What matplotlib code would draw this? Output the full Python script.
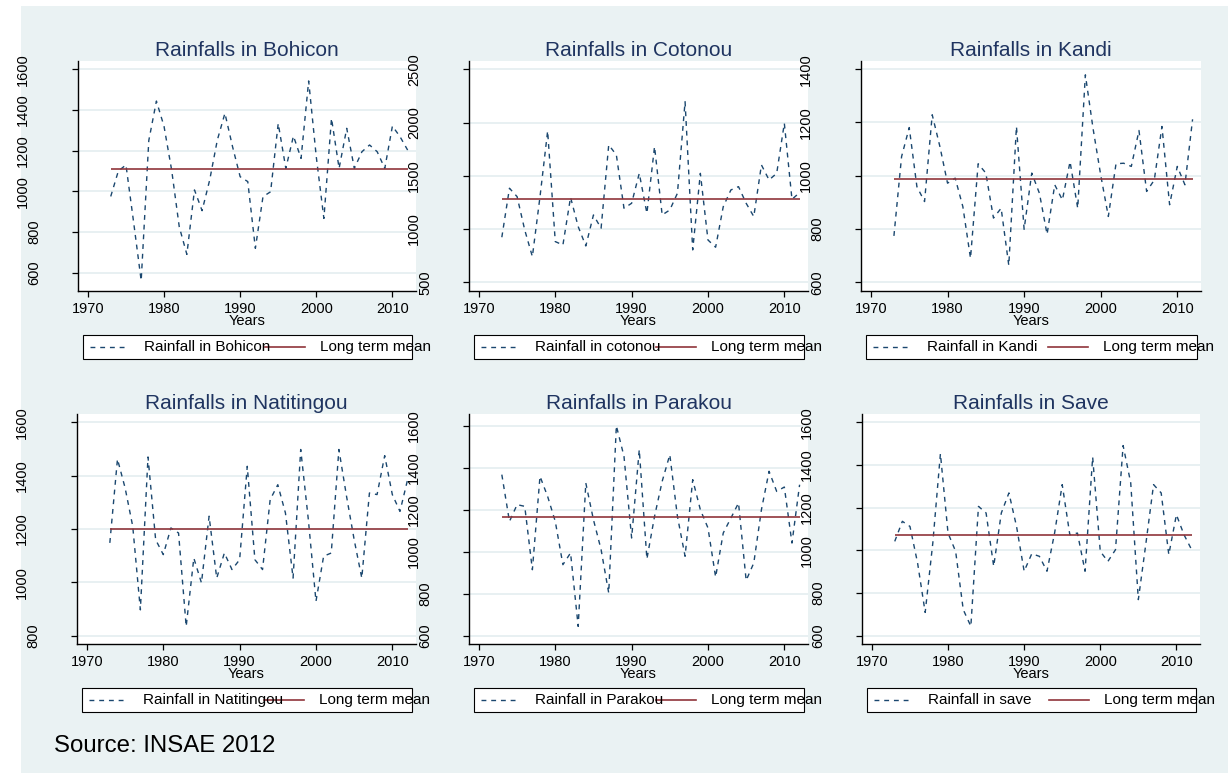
import matplotlib.pyplot as plt
import matplotlib.transforms as mtransforms
from matplotlib.lines import Line2D
from matplotlib.patches import Rectangle

years = list(range(1973, 2013))

bohicon = [975, 1100, 1130, 850, 561, 1250, 1444, 1320, 1105, 826,
           690, 1007, 905, 1056, 1252, 1384, 1220, 1072, 1048, 720,
           974, 998, 1334, 1113, 1272, 1162, 1543, 1170, 867, 1359,
           1113, 1310, 1113, 1195, 1228, 1195, 1113, 1321, 1269, 1203]
cotonou = [923, 1383, 1304, 991, 741, 1304, 1921, 882, 850, 1298,
           1023, 841, 1132, 1007, 1790, 1696, 1195, 1242, 1523, 1148,
           1774, 1132, 1179, 1336, 2196, 804, 1523, 897, 829, 1210,
           1367, 1398, 1242, 1117, 1602, 1461, 1523, 1993, 1279, 1342]
kandi = [774, 1072, 1181, 959, 903, 1229, 1110, 972, 991, 884,
         690, 1045, 1010, 841, 878, 663, 1185, 799, 1010, 934,
         780, 966, 909, 1053, 878, 1379, 1178, 1003, 847, 1045,
         1047, 1035, 1170, 941, 984, 1185, 891, 1035, 966, 1212]
natitingou = [1148, 1462, 1354, 1210, 897, 1470, 1160, 1104, 1204, 1185,
              835, 1091, 998, 1248, 1016, 1110, 1048, 1085, 1435, 1085,
              1048, 1310, 1366, 1260, 1016, 1498, 1235, 929, 1098, 1110,
              1498, 1323, 1160, 1016, 1335, 1329, 1475, 1329, 1266, 1385]
parakou = [1367, 1144, 1224, 1216, 914, 1359, 1263, 1144, 938, 994,
           644, 1327, 1152, 1010, 803, 1600, 1454, 1065, 1486, 965,
           1168, 1335, 1462, 1168, 978, 1343, 1200, 1113, 879, 1089,
           1160, 1232, 863, 946, 1200, 1383, 1287, 1308, 1041, 1319]
save = [1042, 1136, 1112, 941, 709, 1034, 1453, 1081, 995, 722,
        644, 1206, 1175, 925, 1175, 1269, 1112, 902, 984, 972,
        902, 1081, 1308, 1073, 1081, 902, 1437, 995, 948, 1003,
        1491, 1316, 769, 1034, 1308, 1269, 980, 1167, 1073, 1003]

# long term means (red line)
means = [1109, 1280, 988, 1200, 1165, 1070]

titles = ['Rainfalls in Bohicon', 'Rainfalls in Cotonou', 'Rainfalls in Kandi',
          'Rainfalls in Natitingou', 'Rainfalls in Parakou', 'Rainfalls in Save']
series_labels = ['Rainfall in Bohicon', 'Rainfall in cotonou', 'Rainfall in Kandi',
                 'Rainfall in Natitingou', 'Rainfall in Parakou', 'Rainfall in save']
mean_label = 'Long term mean'

x_ticks = [1970, 1980, 1990, 2000, 2010]
y_ticks = [
    [600, 800, 1000, 1200, 1400, 1600],
    [500, 1000, 1500, 2000, 2500],
    [600, 800, 1000, 1200, 1400],
    [800, 1000, 1200, 1400, 1600],
    [600, 800, 1000, 1200, 1400, 1600],
    [600, 800, 1000, 1200, 1400, 1600],
]

# layout, in pixels of the 1228x773 picture: left, top, right, bottom
W, H = 1228, 773
boxes = [
    (78, 61, 416, 291), (469, 61, 808, 291), (861, 61, 1201, 291),
    (77, 414, 416, 644), (469, 414, 808, 644), (862, 414, 1200, 644),
]
y_limits = [(510, 1641), (418, 2578), (567, 1431),
            (769, 1631), (560, 1656), (561, 1639)]

BG = '#eaf2f3'
NAVY = '#1a476f'
MAROON = '#90353b'
TITLE = '#1f3460'
FONT = ['Liberation Sans', 'DejaVu Sans']
NARROW = ['Liberation Sans Narrow', 'Liberation Sans', 'DejaVu Sans']


def fx(x):
    return x / W


def fy(y):
    return 1 - y / H


def legend(fig, left, top, right, bottom, label):
    fig.add_artist(Rectangle((fx(left), fy(bottom)), fx(right) - fx(left), fy(top) - fy(bottom),
                             transform=fig.transFigure, facecolor='white', edgecolor='black', lw=0.8))
    mid = fy((top + bottom) / 2)
    fig.add_artist(Line2D([fx(left + 7), fx(left + 44)], [mid, mid], transform=fig.transFigure,
                          color=NAVY, lw=1.0, ls=(0, (3.5, 3.5))))
    fig.text(fx(left + 61), mid, label, fontsize=11, family=FONT, va='center')
    fig.add_artist(Line2D([fx(left + 182), fx(left + 222)], [mid, mid], transform=fig.transFigure,
                          color=MAROON, lw=1.2))
    fig.text(fx(left + 237), mid, mean_label, fontsize=11, family=FONT, va='center')


def main():
    plt.rcParams['font.family'] = FONT
    fig = plt.figure(figsize=(W / 100, H / 100), dpi=100, facecolor='white')
    fig.add_artist(Rectangle((fx(21), 0), 1 - fx(21), fy(6), transform=fig.transFigure,
                             facecolor=BG, edgecolor='none', zorder=-10))

    all_series = [bohicon, cotonou, kandi, natitingou, parakou, save]
    for i, values in enumerate(all_series):
        left, top, right, bottom = boxes[i]
        width = right - left
        height = bottom - top
        ax = fig.add_axes([fx(left), fy(bottom), width / W, height / H])
        ax.set_facecolor('white')

        ax.plot(years, values, color=NAVY, lw=1.0, ls=(0, (3.5, 3.5)), zorder=3)
        ax.hlines(means[i], years[0], years[-1], color=MAROON, lw=1.2, zorder=4)

        ax.set_xlim(1968.7, 2013.1)
        ax.set_ylim(*y_limits[i])
        ax.set_xticks(x_ticks)
        ax.set_yticks(y_ticks[i])
        ax.yaxis.grid(True, color='#e4eef0', lw=1.2)
        ax.set_axisbelow(True)
        for side in ['top', 'right']:
            ax.spines[side].set_visible(False)
        for side in ['left', 'bottom']:
            ax.spines[side].set_linewidth(1.0)
        ax.tick_params(direction='out', length=4.3, width=0.9, labelsize=10.5, pad=3.5)
        ax.tick_params(axis='y', labelleft=False)

        # vertical y labels sit well away from the axis
        trans = mtransforms.blended_transform_factory(ax.transAxes, ax.transData)
        for t in y_ticks[i]:
            s = str(t)
            off = -11 * (len(s) + 1)
            ax.text(off / width, t, s, rotation=90, ha='center', va='center', transform=trans,
                    fontsize=10.5, family=NARROW, clip_on=False)

        ax.set_title(titles[i], color=TITLE, fontsize=15, pad=3.8)
        ax.text(0.5, -30 / height, 'Years', transform=ax.transAxes, ha='center', va='center',
                fontsize=10.5)

        legend(fig, left + 5, bottom + 44, right - 4, bottom + 68, series_labels[i])

    fig.text(fx(54), fy(746), 'Source: INSAE 2012', fontsize=17.3, va='center')
    fig.savefig('out.png', dpi=100, facecolor='white')


if __name__ == '__main__':
    main()
